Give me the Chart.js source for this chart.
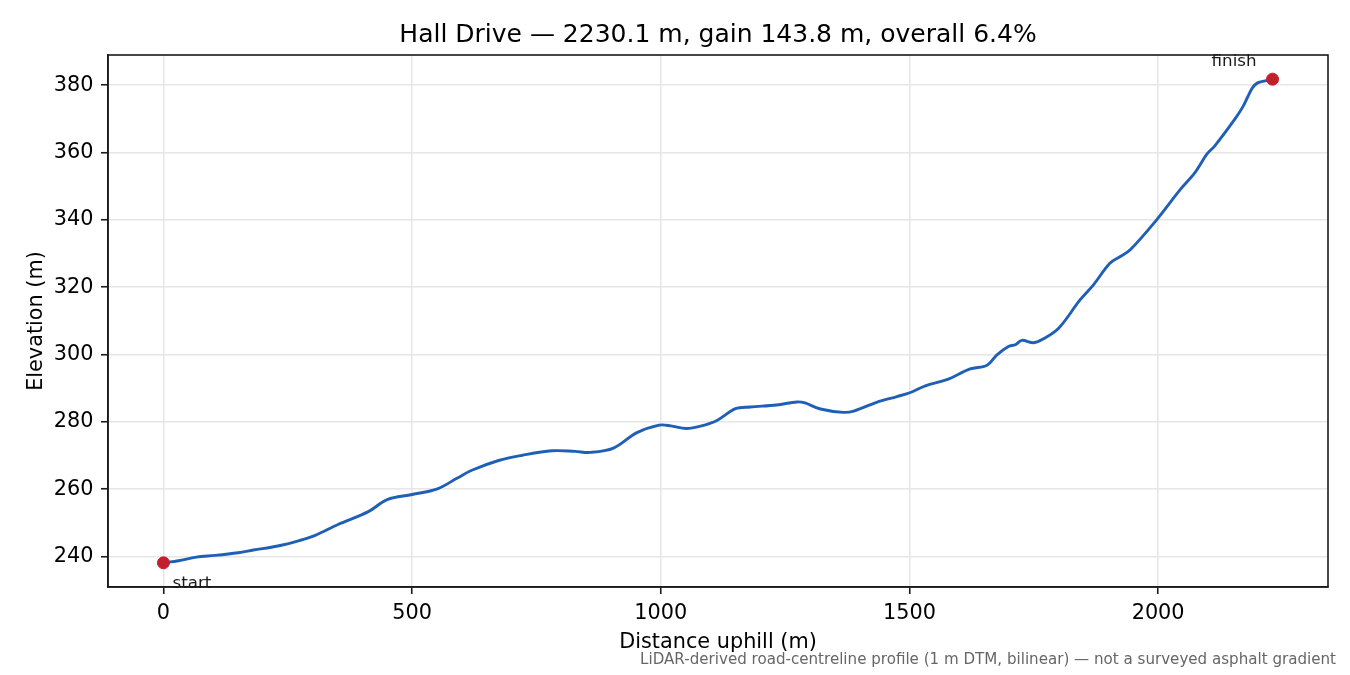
<!DOCTYPE html>
<html>
<head>
<meta charset="utf-8">
<script src="https://cdn.jsdelivr.net/npm/chart.js@4/dist/chart.umd.min.js"></script>
<style>
  html, body { margin: 0; padding: 0; background: #fff; }
  #wrap { width: 1350px; height: 675px; }
</style>
</head>
<body>
<div id="wrap"><canvas id="profile"></canvas></div>
<script>
// distance along the road (m) and elevation (m)
const distance = [0, 30, 66, 104, 150, 181, 230, 273, 304, 351, 412, 450, 500, 551, 590, 620, 674, 720, 781, 828,
  858, 905, 951, 997, 1020, 1051, 1080, 1113, 1150, 1180, 1233, 1274, 1290, 1321, 1367, 1388, 1434, 1475, 1502, 1532,
  1575, 1622, 1656, 1676, 1699, 1713, 1726, 1750, 1770, 1800, 1843, 1870, 1903, 1924, 1944, 1997, 2044, 2074,
  2098, 2114, 2155, 2170, 2180, 2190, 2200, 2215, 2230.1];
const elevation = [238.1, 238.7, 239.8, 240.3, 241.1, 241.9, 243.1, 244.7, 246.2, 249.5, 253.3, 256.9, 258.4, 260.1,
  263.2, 265.6, 268.5, 270.0, 271.4, 271.2, 270.9, 272.2, 276.7, 279.0, 278.8, 278.0, 278.7, 280.4, 283.9, 284.4,
  285.0, 285.9, 285.6, 283.8, 282.8, 283.2, 285.8, 287.5, 288.7, 290.7, 292.5, 295.7, 296.8, 299.9, 302.4, 302.9,
  304.2, 303.5, 304.7, 307.8, 316.2, 320.7, 327.1, 329.1, 331.1, 340.0, 348.9, 354.0, 359.5, 362.0, 370.1,
  373.5, 376.5, 379.3, 380.7, 381.3, 381.8];
const xTicks = [0, 500, 1000, 1500, 2000];
const yTicks = [240, 260, 280, 300, 320, 340, 360, 380];

const titleText = 'Hall Drive \u2014 2230.1 m, gain 143.8 m, overall 6.4%';
const footText = 'LiDAR-derived road-centreline profile (1 m DTM, bilinear) \u2014 not a surveyed asphalt gradient';

const FONT = "'DejaVu Sans', 'Liberation Sans', sans-serif";

const profilePts = distance.map((d, i) => ({ x: d, y: elevation[i] }));
const last = distance.length - 1;
const endPts = [
  { x: distance[0], y: elevation[0] },
  { x: distance[last], y: elevation[last] }
];

// matplotlib-ish 5% margins
const xPad = (distance[last] - distance[0]) * 0.05;
const yMin = Math.min(...elevation), yMax = Math.max(...elevation);
const yPad = (yMax - yMin) * 0.05;

const extras = {
  id: 'extras',
  afterDraw(chart) {
    const { ctx, chartArea: a, scales } = chart;
    ctx.save();
    // full frame
    ctx.strokeStyle = '#1a1a1a';
    ctx.lineWidth = 1.6;
    ctx.strokeRect(a.left, a.top, a.right - a.left, a.bottom - a.top);

    // title
    ctx.fillStyle = '#000';
    ctx.font = '25px ' + FONT;
    ctx.textAlign = 'center';
    ctx.textBaseline = 'middle';
    ctx.fillText(titleText, (a.left + a.right) / 2, 35);

    // start / finish labels next to the end markers
    ctx.font = '16.7px ' + FONT;
    ctx.fillStyle = '#1a1a1a';
    ctx.textBaseline = 'alphabetic';
    const sx = scales.x.getPixelForValue(endPts[0].x);
    const sy = scales.y.getPixelForValue(endPts[0].y);
    ctx.textAlign = 'left';
    ctx.fillText('start', sx + 9, sy + 25);
    const fx = scales.x.getPixelForValue(endPts[1].x);
    const fy = scales.y.getPixelForValue(endPts[1].y);
    ctx.textAlign = 'right';
    ctx.fillText('finish', fx - 16, fy - 13);

    // footnote
    ctx.font = '15.1px ' + FONT;
    ctx.fillStyle = '#666';
    ctx.textAlign = 'right';
    ctx.textBaseline = 'middle';
    ctx.fillText(footText, 1336, 660);
    ctx.restore();
  }
};

new Chart(document.getElementById('profile'), {
  type: 'line',
  data: {
    datasets: [
      {
        data: profilePts,
        borderColor: '#1f5fb6',
        borderWidth: 2.9,
        pointRadius: 0,
        tension: 0.35,
        fill: false,
        order: 2
      },
      {
        type: 'scatter',
        data: endPts,
        backgroundColor: '#c21f2b',
        borderColor: '#c21f2b',
        pointRadius: 6,
        pointHoverRadius: 6,
        order: 1
      }
    ]
  },
  options: {
    responsive: true,
    maintainAspectRatio: false,
    animation: false,
    events: [],
    layout: { padding: { left: 0, right: 22, top: 55, bottom: 0 } },
    plugins: {
      legend: { display: false },
      title: { display: false },
      tooltip: { enabled: false }
    },
    scales: {
      x: {
        type: 'linear',
        min: distance[0] - xPad,
        max: distance[last] + xPad,
        afterFit: s => { s.height = 88; },
        afterBuildTicks: s => { s.ticks = xTicks.map(v => ({ value: v })); },
        ticks: {
          color: '#000',
          padding: 7,
          font: { family: FONT, size: 20.8, lineHeight: 1.2 },
          callback: v => String(v)
        },
        grid: { color: '#e6e6e6', lineWidth: 1.5, tickColor: '#1a1a1a', tickLength: 7, tickWidth: 1.6 },
        border: { color: '#1a1a1a', width: 1.6 },
        title: {
          display: true,
          text: 'Distance uphill (m)',
          color: '#000',
          font: { family: FONT, size: 20.8, lineHeight: 1.2 },
          padding: { top: 0, bottom: 19.5 }
        }
      },
      y: {
        min: yMin - yPad,
        max: yMax + yPad,
        afterFit: s => { s.width = 108; },
        afterBuildTicks: s => { s.ticks = yTicks.map(v => ({ value: v })); },
        ticks: {
          color: '#000',
          padding: 7.5,
          font: { family: FONT, size: 20.8, lineHeight: 1.2 },
          callback: v => String(v)
        },
        grid: { color: '#e6e6e6', lineWidth: 1.5, tickColor: '#1a1a1a', tickLength: 7, tickWidth: 1.6 },
        border: { color: '#1a1a1a', width: 1.6 },
        title: {
          display: true,
          text: 'Elevation (m)',
          color: '#000',
          font: { family: FONT, size: 20.8, lineHeight: 1.2 },
          padding: { top: 24.5, bottom: 0 }
        }
      }
    }
  },
  plugins: [extras]
});
</script>
</body>
</html>
